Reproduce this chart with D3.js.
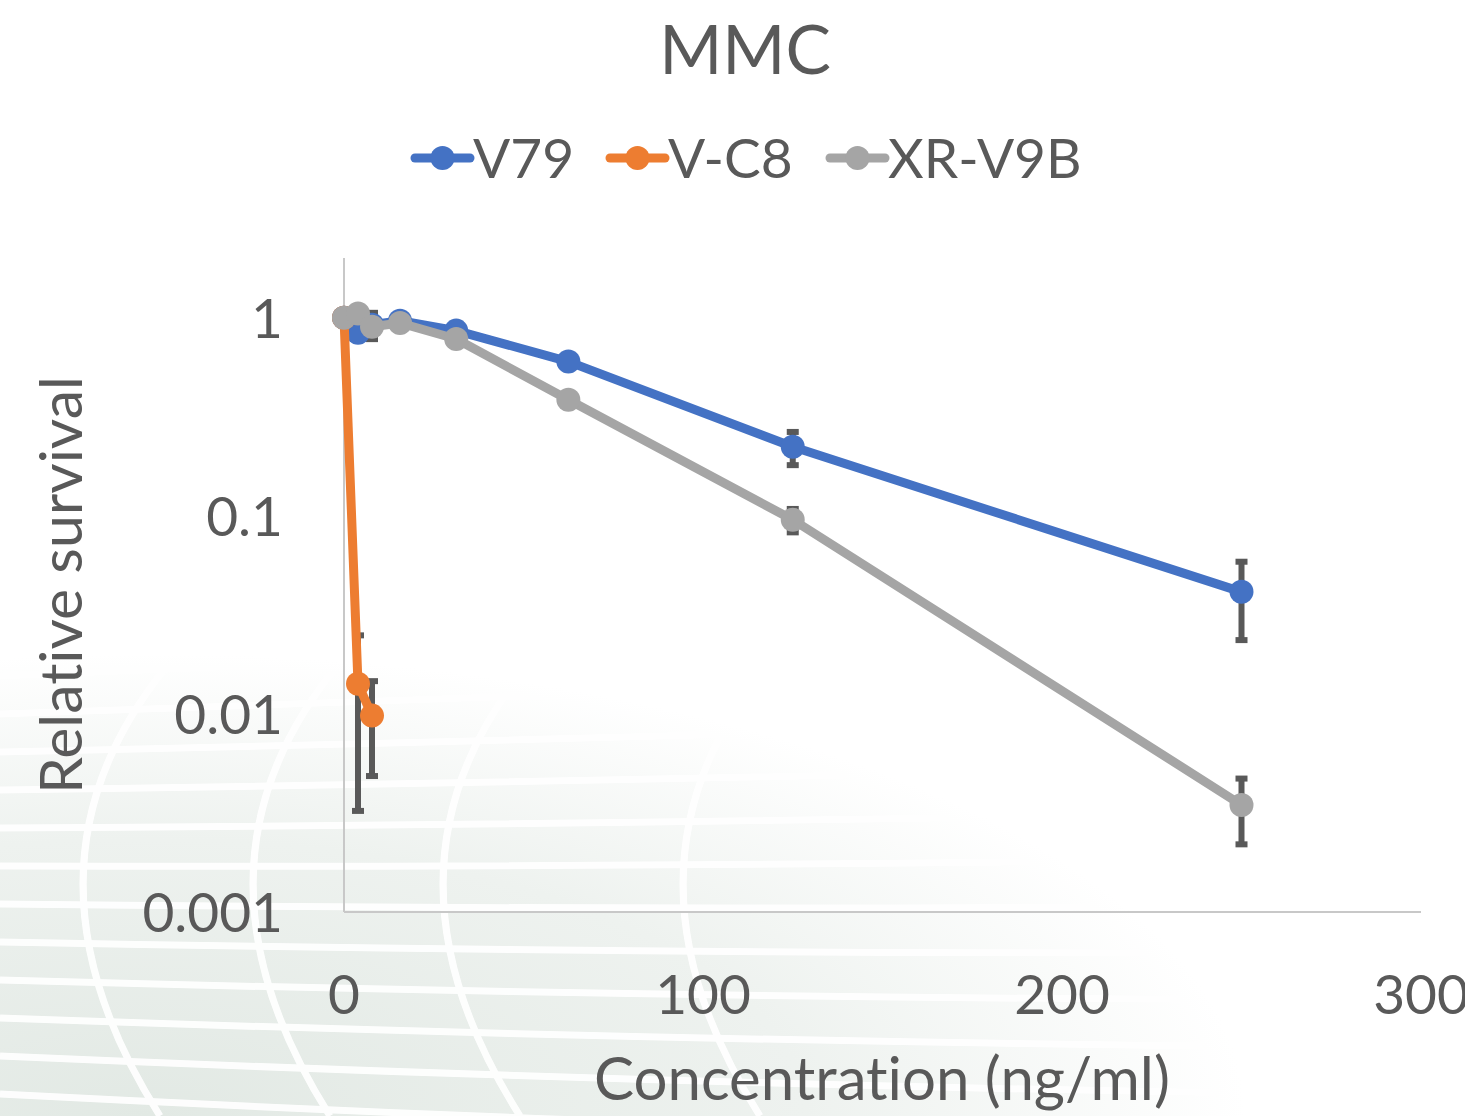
<!DOCTYPE html>
<html>
<head>
<meta charset="utf-8">
<script src="https://cdn.jsdelivr.net/npm/d3@7"></script>
<style>
  body { margin: 0; background: #fff; }
  svg { display: block; }
  text { font-variant-ligatures: none; }
</style>
</head>
<body>
<script>
// Sizes
const w = 1465;
const h = 1116;
const plotLeft = 344, plotRight = 1421, plotTop = 258, plotBottom = 912;

// Data
const concentrations = [0, 3.9, 7.8, 15.6, 31.25, 62.5, 125, 250];
const seriesNames = ["V79", "V-C8", "XR-V9B"];
const seriesColors = ["#4472c4", "#ed7d31", "#a5a5a5"];
const v79Values = [1, 0.84, 0.92, 0.965, 0.86, 0.6, 0.223, 0.0413];
const v79Errors = [0, 0.03, 0.15, 0.02, 0.02, 0.03, 0.045, 0.018];
const vc8Conc = [0, 3.9, 7.8];
const vc8Values = [1, 0.0142, 0.0098];
const vc8Errors = [0, 0.011, 0.005];
const xrValues = [1, 1.05, 0.9, 0.94, 0.78, 0.385, 0.0955, 0.00347];
const xrErrors = [0, 0.02, 0.03, 0.02, 0.02, 0.025, 0.014, 0.0013];
const xTicks = [0, 100, 200, 300];
const yTicks = [1, 0.1, 0.01, 0.001];

const series = [
  { name: seriesNames[0], color: seriesColors[0], x: concentrations, y: v79Values, e: v79Errors },
  { name: seriesNames[1], color: seriesColors[1], x: vc8Conc, y: vc8Values, e: vc8Errors },
  { name: seriesNames[2], color: seriesColors[2], x: concentrations, y: xrValues, e: xrErrors }
];

const font = "Lato, 'Open Sans', sans-serif";
const textColor = "#595959";

const svg = d3.select("body").append("svg")
  .attr("width", w).attr("height", h);

// Faint background decoration (lower left)
const defs = svg.append("defs");
const grad = defs.append("radialGradient").attr("id", "bg")
  .attr("cx", 0.1).attr("cy", 1).attr("r", 1.0);
grad.append("stop").attr("offset", "0").attr("stop-color", "#e2e9e4");
grad.append("stop").attr("offset", "0.45").attr("stop-color", "#eef2ef");
grad.append("stop").attr("offset", "0.75").attr("stop-color", "#ffffff");
svg.append("rect").attr("width", w).attr("height", h).attr("fill", "#fff");
svg.append("rect").attr("y", 500).attr("width", w).attr("height", h - 500).attr("fill", "url(#bg)");
const deco = svg.append("g").attr("stroke", "#ffffff").attr("fill", "none").attr("stroke-width", 7).attr("opacity", 0.95);
for (let i = 0; i < 14; i++) {
  const y0 = 600 + i * 38;
  deco.append("path").attr("d", `M0,${y0} Q${w * 0.5},${y0 - 40 + i * 6} ${w},${y0 - 80 + i * 10}`);
}
[160, 330, 520, 760].forEach(r => {
  deco.append("path").attr("d", `M${r},${h} Q${r - 200},${800} ${r + 120},${560}`);
});

// Scales
const x = d3.scaleLinear().domain([0, 300]).range([plotLeft, plotRight]);
const y = d3.scaleLog().domain([0.001, 2]).range([plotBottom, plotTop]);

// Axes lines
svg.append("line").attr("x1", plotLeft).attr("x2", plotLeft).attr("y1", plotTop).attr("y2", plotBottom)
  .attr("stroke", "#c8c8c8").attr("stroke-width", 2);
svg.append("line").attr("x1", plotLeft).attr("x2", plotRight).attr("y1", plotBottom).attr("y2", plotBottom)
  .attr("stroke", "#c8c8c8").attr("stroke-width", 2);

// Tick labels
svg.selectAll(".ytick").data(yTicks).enter().append("text")
  .attr("x", 283).attr("y", d => y(d) + 20)
  .attr("text-anchor", "end").attr("font-family", font).attr("font-size", 55)
  .attr("fill", textColor).text(d => String(d));
svg.selectAll(".xtick").data(xTicks).enter().append("text")
  .attr("x", d => x(d)).attr("y", 1014)
  .attr("text-anchor", "middle").attr("font-family", font).attr("font-size", 55)
  .attr("fill", textColor).text(d => d);

// Titles
svg.append("text").attr("x", 745).attr("y", 74).attr("text-anchor", "middle")
  .attr("font-family", font).attr("font-size", 68).attr("fill", textColor).text("MMC");
svg.append("text").attr("x", 882).attr("y", 1100).attr("text-anchor", "middle")
  .attr("font-family", font).attr("font-size", 60).attr("fill", textColor).text("Concentration (ng/ml)");
svg.append("text").attr("transform", "translate(82,585) rotate(-90)").attr("text-anchor", "middle")
  .attr("font-family", font).attr("font-size", 59).attr("fill", textColor).text("Relative survival");

// Error bars
const errG = svg.append("g").attr("stroke", "#595959").attr("stroke-width", 6);
series.forEach(s => {
  s.x.forEach((c, i) => {
    if (!s.e[i]) return;
    const y1 = y(s.y[i] + s.e[i]), y2 = y(Math.max(s.y[i] - s.e[i], 1e-4));
    const cx = x(c);
    errG.append("line").attr("x1", cx).attr("x2", cx).attr("y1", y1).attr("y2", y2);
    errG.append("line").attr("x1", cx - 6).attr("x2", cx + 6).attr("y1", y1 + 1).attr("y2", y1 + 1);
    errG.append("line").attr("x1", cx - 6).attr("x2", cx + 6).attr("y1", y2 - 1).attr("y2", y2 - 1);
  });
});

// Lines and markers
const line = d3.line().x(d => x(d[0])).y(d => y(d[1]));
series.forEach(s => {
  const pts = s.x.map((c, i) => [c, s.y[i]]);
  svg.append("path").datum(pts).attr("d", line)
    .attr("fill", "none").attr("stroke", s.color).attr("stroke-width", 9)
    .attr("stroke-linejoin", "round").attr("stroke-linecap", "round");
  svg.selectAll(null).data(pts).enter().append("circle")
    .attr("cx", d => x(d[0])).attr("cy", d => y(d[1])).attr("r", 12)
    .attr("fill", s.color);
});

// Legend
const legendX = [415, 610, 830];
const lg = svg.append("g");
series.forEach((s, i) => {
  const g = lg.append("g").attr("transform", `translate(${legendX[i]},158)`);
  g.append("line").attr("x1", 0).attr("x2", 55).attr("stroke", s.color)
    .attr("stroke-width", 9).attr("stroke-linecap", "round");
  g.append("circle").attr("cx", 27.5).attr("r", 12).attr("fill", s.color);
  g.append("text").attr("x", 58).attr("y", 20).attr("font-family", font)
    .attr("font-size", 55).attr("fill", textColor).text(s.name);
});
</script>
</body>
</html>
